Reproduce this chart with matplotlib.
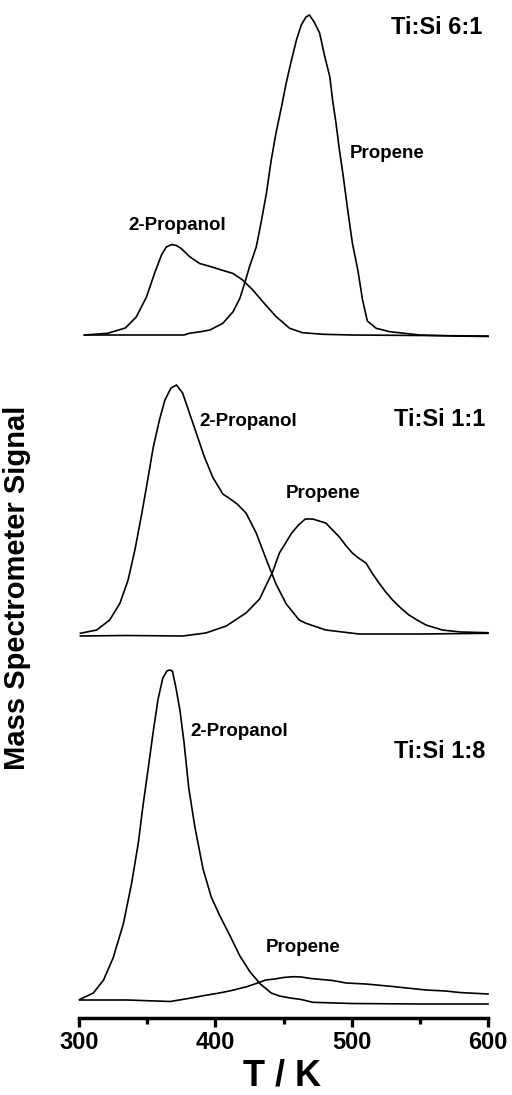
import matplotlib
matplotlib.use("Agg")
import matplotlib.pyplot as plt
from matplotlib.ticker import FixedLocator

plt.rcParams['font.family'] = ['Liberation Sans', 'DejaVu Sans']
plt.rcParams['font.weight'] = 'bold'

# Temperature-programmed desorption traces (signal in arbitrary units)
# Ti:Si 6:1
t61_propanol = [304, 321, 334, 342, 349.5, 355.5, 360.5, 364, 368, 371.5, 375, 381, 388.5,
                395, 401, 407, 413, 420, 427.5, 435, 444.5, 454.5, 464, 479, 500, 550, 600]
s61_propanol = [0, 1.7, 7, 18, 38, 62, 80, 88, 90.5, 89.5, 86.5, 78.5, 71.5,
                69, 66.5, 64, 61.5, 55, 45, 33, 18.5, 6.7, 2.3, 0.7, 0, -0.5, -1]
t61_propene = [304, 340, 377, 381, 390, 396, 405.5, 413, 418, 421.5, 425, 430, 433.5, 437.5,
               441, 444.5, 448.5, 452, 455.5, 459.5, 463, 466.5, 469, 472.5, 476.5, 480,
               484, 486, 488.5, 491, 493.5, 497, 500.5, 504.5, 508, 511.5, 518, 528, 550,
               575, 600]
s61_propene = [0, 0, 0, 1.7, 3.5, 5, 11.7, 23.3, 36.7, 51.7, 68, 88, 112, 142,
               175, 202, 228, 252, 273, 295, 310, 318, 320, 313, 302, 280,
               258, 235, 212, 185, 162, 126, 92, 65, 35, 14, 6.7, 3.3, 0,
               -1, -1.5]

# Ti:Si 1:1
t11_propanol = [301, 313, 322.5, 330, 336, 341, 346, 350.5, 354.5, 359, 363, 367.5, 371.5,
                376, 381, 386, 392, 398, 405.5, 411, 416, 422.5, 430, 437.5, 444.5, 452,
                461.5, 466.5, 481, 505.5, 550, 600]
s11_propanol = [0.7, 4, 14, 30.7, 54, 84, 120, 155, 187, 214, 234, 246, 249,
                241, 221, 201, 177, 157, 140, 135, 130, 121, 101, 74, 50, 30,
                14, 10.7, 4, 0, 0, 0.7]
t11_propene = [301, 335, 376, 393, 408, 422.5, 432.5, 437, 442, 447, 452, 456, 461, 466,
               471.5, 476, 481, 486, 491, 496, 500.5, 505, 510.5, 515, 520, 525, 530, 536,
               542, 548, 554.5, 566.5, 580, 600]
s11_propene = [-2, -1.5, -2, 1, 8, 21, 35, 48, 62, 81, 92, 101, 109, 115,
               115, 113, 111, 104, 97, 88, 81, 76, 71, 61, 51, 42, 34, 26,
               19, 14, 9, 4, 2, 1.3]

# Ti:Si 1:8
t18_propanol = [300.5, 310.5, 318, 325, 332.5, 338.5, 343.5, 347, 350.5, 354.5, 358, 361.5,
                364.5, 366.5, 368.5, 371, 374, 377, 380.5, 385, 391, 397, 403, 410.5, 418,
                425.5, 433, 441, 447, 455, 463, 471.5, 500, 550, 600]
s18_propanol = [0.5, 7, 20, 42, 76, 116, 157, 195, 229, 269, 301, 322,
                329, 330, 329, 313, 290, 258, 212, 173, 131, 103, 85, 65, 44,
                28, 16, 7, 4, 2, 0.5, -2.3, -3.5, -4, -4]
t18_propene = [300.5, 335, 367, 381, 392, 403, 412, 423, 430, 437, 443.5, 450, 457, 463,
               470, 478, 486, 496, 510.5, 530, 554.5, 569, 579, 600]
s18_propene = [0, 0, -1.5, 1.7, 4.5, 7, 9.5, 13.3, 16.5, 20, 21, 22.5, 23.3, 23,
               21.5, 20.5, 19.5, 17, 16, 13.5, 10, 9, 7.5, 6]

ratios = ["Ti:Si 6:1", "Ti:Si 1:1", "Ti:Si 1:8"]
x_ticks = [300, 400, 500, 600]
x_minor = [350, 450, 550]

W, H = 512, 1095
fig = plt.figure(figsize=(W / 100, H / 100), dpi=100)

left = 79 / W
width = (488 - 79) / W


def panel(top_px, bottom_px, base_px):
    rect = [left, (H - bottom_px) / H, width, (bottom_px - top_px) / H]
    ax = fig.add_axes(rect)
    ax.set_xlim(300, 600)
    ax.set_ylim(-(bottom_px - base_px), base_px - top_px)
    for sp in ax.spines.values():
        sp.set_visible(False)
    ax.set_yticks([])
    ax.set_xticks([])
    ax.patch.set_alpha(0)
    return ax


ax1 = panel(0, 340, 335)
ax2 = panel(345, 640, 634)
ax3 = panel(645, 1018, 1000)

lw = 1.2
for ax, (ta, sa, tb, sb) in zip(
        [ax1, ax2, ax3],
        [(t61_propanol, s61_propanol, t61_propene, s61_propene),
         (t11_propanol, s11_propanol, t11_propene, s11_propene),
         (t18_propanol, s18_propanol, t18_propene, s18_propene)]):
    ax.plot(ta, sa, color='black', lw=lw, clip_on=False, solid_joinstyle='round')
    ax.plot(tb, sb, color='black', lw=lw, clip_on=False, solid_joinstyle='round')

lab = dict(fontsize=13.5, fontweight='bold', color='black')
rat = dict(fontsize=17, fontweight='bold', color='black', ha='right', va='center')

ax1.text(595.6, 308, ratios[0], **rat)
ax1.text(498.3, 182, "Propene", ha='left', va='center', **lab)
ax1.text(335.9, 110, "2-Propanol", ha='left', va='center', **lab)

ax2.text(597.8, 214, ratios[1], **rat)
ax2.text(388.5, 212, "2-Propanol", ha='left', va='center', **lab)
ax2.text(451.5, 141, "Propene", ha='left', va='center', **lab)

ax3.text(597.8, 249, ratios[2], **rat)
ax3.text(381.7, 268, "2-Propanol", ha='left', va='center', **lab)
ax3.text(437.3, 52, "Propene", ha='left', va='center', **lab)

# Temperature axis along the bottom panel
ax3.spines['bottom'].set_visible(True)
ax3.spines['bottom'].set_linewidth(2.5)
ax3.xaxis.set_major_locator(FixedLocator(x_ticks))
ax3.xaxis.set_minor_locator(FixedLocator(x_minor))
ax3.set_xticklabels([str(v) for v in x_ticks])
ax3.tick_params(axis='x', which='major', direction='out', length=6.5, width=2.4,
                labelsize=17, pad=3)
ax3.tick_params(axis='x', which='minor', direction='out', length=4.5, width=2.4)
for t in ax3.get_xticklabels():
    t.set_fontweight('bold')

fig.text(282 / W, 1 - 1076 / H, "T / K", ha='center', va='center',
         fontsize=26, fontweight='bold')
fig.text(17 / W, 1 - 588 / H, "Mass Spectrometer Signal", rotation=90,
         ha='center', va='center', fontsize=21, fontweight='bold')

fig.savefig("out.png", dpi=100, facecolor='white')
